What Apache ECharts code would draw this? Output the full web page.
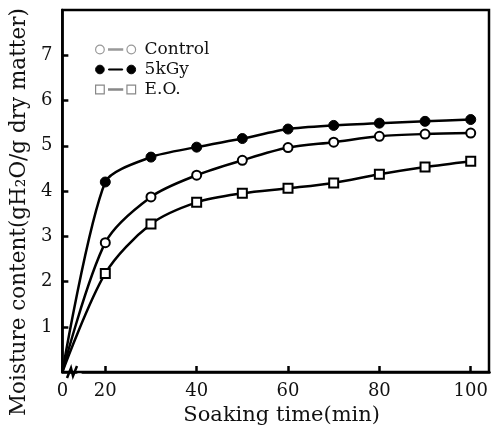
<!DOCTYPE html>
<html lang="en">
<head>
<meta charset="UTF-8">
<title>Moisture content</title>
<script src="https://cdn.jsdelivr.net/npm/echarts@6/dist/echarts.min.js"></script>
<style>html,body{margin:0;background:#fff;}</style>
</head>
<body>
<div id="chart" style="width:494px;height:431px;"></div>
<script>
// soaking time (min) and moisture content
var times = [0, 20, 30, 40, 50, 60, 70, 80, 90, 100];
var control = [0, 2.86, 3.87, 4.35, 4.68, 4.96, 5.08, 5.21, 5.26, 5.28];
var gy5 = [0, 4.2, 4.75, 4.97, 5.16, 5.37, 5.45, 5.5, 5.54, 5.58];
var eo = [0, 2.18, 3.27, 3.75, 3.95, 4.06, 4.18, 4.37, 4.53, 4.66];
var xTicks = [0, 20, 40, 60, 80, 100];
var yTicks = [1, 2, 3, 4, 5, 6, 7];

var FONT = 'DejaVu Serif';

function pairs(vals) {
	return times.map(function (t, i) {
		// origin has no marker
		return i === 0 ? { value: [t, vals[i]], symbol: 'none' } : [t, vals[i]];
	});
}

// legend marks drawn as "o-o" / "[]-[]"
var circleIcon = 'path://M1,5a4,4 0 1,0 8,0a4,4 0 1,0 -8,0M13,4.5h13v1h-13zM30,5a4,4 0 1,0 8,0a4,4 0 1,0 -8,0';
var squareIcon = 'path://M1,1h8v8h-8zM13,4.5h13v1h-13zM30,1h8v8h-8z';

var chart = echarts.init(document.getElementById('chart'));
var option = {
	animation: false,
	grid: {
		left: 59, right: 5, top: 10, bottom: 58,
		show: true, borderColor: '#000', borderWidth: 2.5
	},
	legend: {
		orient: 'vertical',
		left: 90, top: 36,
		itemWidth: 40, itemHeight: 9, itemGap: 3,
		textStyle: { fontFamily: FONT, fontSize: 17, color: '#111', padding: [0, 0, 0, 4] },
		data: [
			{ name: 'Control', icon: circleIcon, itemStyle: { color: '#fff', borderColor: '#999', borderWidth: 1.2 } },
			{ name: '5kGy', icon: circleIcon, itemStyle: { color: '#000', borderColor: '#000', borderWidth: 1 } },
			{ name: 'E.O.', icon: squareIcon, itemStyle: { color: '#fff', borderColor: '#888', borderWidth: 1.2 } }
		]
	},
	xAxis: {
		type: 'value',
		min: 0, max: 104,
		breaks: [{ start: 3, end: 15, gap: '1.5%' }],
		breakArea: { show: false },
		name: 'Soaking time(min)',
		nameLocation: 'middle',
		nameGap: 31,
		nameTextStyle: { fontFamily: FONT, fontSize: 21, color: '#111', padding: [0, 0, 0, 12] },
		axisLine: { lineStyle: { color: '#000', width: 2.5 } },
		axisTick: { inside: true, length: 6, lineStyle: { color: '#000', width: 2.5 }, customValues: xTicks },
		axisLabel: { fontFamily: FONT, fontSize: 18, color: '#111', margin: 10, customValues: xTicks },
		splitLine: { show: false }
	},
	yAxis: {
		type: 'value',
		min: 0, max: 8, interval: 1,
		name: 'Moisture content(gH\u2082O/g dry matter)',
		nameLocation: 'middle',
		nameGap: 30,
		nameTextStyle: { fontFamily: FONT, fontSize: 21.5, color: '#111', padding: [0, 42, 0, 0] },
		axisLine: { lineStyle: { color: '#000', width: 2.5 } },
		axisTick: { inside: true, length: 6, lineStyle: { color: '#000', width: 2.5 }, customValues: yTicks },
		axisLabel: { fontFamily: FONT, fontSize: 18, color: '#111', margin: 10, customValues: yTicks },
		splitLine: { show: false }
	},
	graphic: [{
		type: 'polyline',
		shape: { points: [[67, 378], [71, 368], [73, 376], [77, 366]] },
		style: { stroke: '#000', lineWidth: 2.5, fill: 'none' }
	}],
	series: [
		{
			name: 'Control', type: 'line', smooth: 0.3,
			data: pairs(control),
			symbol: 'circle', symbolSize: 9,
			lineStyle: { color: '#000', width: 2.5 },
			itemStyle: { color: '#fff', borderColor: '#000', borderWidth: 2 }
		},
		{
			name: '5kGy', type: 'line', smooth: 0.25,
			data: pairs(gy5),
			symbol: 'circle', symbolSize: 10,
			lineStyle: { color: '#000', width: 2.5 },
			itemStyle: { color: '#000', borderColor: '#000', borderWidth: 1 }
		},
		{
			name: 'E.O.', type: 'line', smooth: 0.3,
			data: pairs(eo),
			symbol: 'rect', symbolSize: 9,
			lineStyle: { color: '#000', width: 2.5 },
			itemStyle: { color: '#fff', borderColor: '#000', borderWidth: 2 }
		}
	]
};
chart.setOption(option);
</script>
</body>
</html>
